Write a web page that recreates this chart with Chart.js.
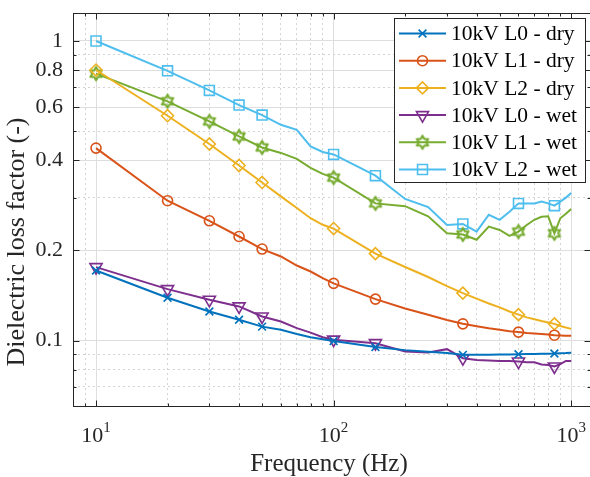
<!DOCTYPE html>
<html>
<head>
<meta charset="utf-8">
<script src="https://cdn.jsdelivr.net/npm/chart.js@4.4.1/dist/chart.umd.min.js"></script>
<style>
  html, body { margin: 0; padding: 0; background: #fff; overflow: hidden; }
  #wrap { width: 590px; height: 477px; position: relative; }
</style>
</head>
<body>
<div id="wrap"><canvas id="chart"></canvas></div>
<script>
// measured frequencies (Hz) and the ones that carry a marker
const freqs = [10, 20, 30, 40, 50, 60, 70, 80, 90, 100, 150, 200, 250, 300, 350, 400, 450, 500, 550, 600, 650, 700, 750, 800, 850, 900, 950, 1000];
const markerFreqs = [10, 20, 30, 40, 50, 100, 150, 350, 600, 850];

// dielectric loss factor per series
const l0Dry = [0.1713, 0.139, 0.125, 0.1173, 0.1113, 0.1086, 0.1052, 0.1026, 0.101, 0.0996, 0.0952, 0.0929, 0.0917, 0.0909, 0.0896, 0.0896, 0.0897, 0.0898, 0.0899, 0.09, 0.0901, 0.0902, 0.0903, 0.0904, 0.0905, 0.0907, 0.0908, 0.091];
const l1Dry = [0.439, 0.293, 0.251, 0.2225, 0.202, 0.1908, 0.178, 0.17, 0.1616, 0.1552, 0.1375, 0.128, 0.122, 0.1171, 0.1137, 0.1116, 0.1099, 0.1087, 0.1075, 0.1067, 0.106, 0.1056, 0.1051, 0.1047, 0.1042, 0.104, 0.1038, 0.1037];
const l2Dry = [0.8, 0.563, 0.453, 0.384, 0.337, 0.303, 0.277, 0.256, 0.2434, 0.2365, 0.195, 0.176, 0.163, 0.152, 0.144, 0.138, 0.133, 0.129, 0.125, 0.122, 0.1195, 0.1178, 0.1162, 0.1149, 0.1137, 0.1118, 0.1105, 0.1094];
const l0Wet = [0.1758, 0.1485, 0.1368, 0.13, 0.1203, 0.1157, 0.11, 0.1063, 0.1026, 0.1007, 0.098, 0.0919, 0.0912, 0.0936, 0.0873, 0.0861, 0.0858, 0.0855, 0.0854, 0.0851, 0.0847, 0.0846, 0.0832, 0.0828, 0.0819, 0.0834, 0.0855, 0.0855];
const l1Wet = [0.778, 0.629, 0.539, 0.48, 0.441, 0.423, 0.404, 0.377, 0.36, 0.35, 0.287, 0.281, 0.26, 0.228, 0.226, 0.217, 0.24, 0.234, 0.2235, 0.231, 0.243, 0.253, 0.259, 0.26, 0.228, 0.256, 0.265, 0.275];
const l2Wet = [1.0, 0.795, 0.684, 0.611, 0.566, 0.525, 0.505, 0.445, 0.426, 0.418, 0.355, 0.297, 0.279, 0.243, 0.245, 0.231, 0.263, 0.253, 0.269, 0.287, 0.287, 0.287, 0.291, 0.287, 0.282, 0.291, 0.3, 0.311];

const seriesNames = ["10kV L0 - dry", "10kV L1 - dry", "10kV L2 - dry", "10kV L0 - wet", "10kV L1 - wet", "10kV L2 - wet"];

// axis ticks
const xTickValues = [9, 10, 20, 30, 40, 50, 60, 70, 80, 90, 100, 200, 300, 400, 500, 600, 700, 800, 900, 1000];
const xMajorTicks = [10, 100, 1000];
const yTickValues = [0.07, 0.08, 0.09, 0.1, 0.2, 0.3, 0.4, 0.5, 0.6, 0.7, 0.8, 0.9, 1];
const yLabelledTicks = [0.1, 0.2, 0.4, 0.6, 0.8, 1];

const FONT = "'Liberation Serif', 'Times New Roman', serif";
const TEXT = "#262626";

// hexagram marker (MATLAB 'h')
function makeHexagram(color) {
  const c = document.createElement("canvas");
  c.width = 18; c.height = 18;
  const g = c.getContext("2d");
  const R = 6.5, r = R / Math.sqrt(3);
  g.beginPath();
  for (let k = 0; k < 12; k++) {
    const ang = -Math.PI / 2 + k * Math.PI / 6;
    const rad = k % 2 === 0 ? R : r;
    const px = 9 + rad * Math.cos(ang), py = 9 + rad * Math.sin(ang);
    k === 0 ? g.moveTo(px, py) : g.lineTo(px, py);
  }
  g.closePath();
  g.strokeStyle = color;
  g.lineWidth = 2.2;
  g.lineJoin = "round";
  g.stroke();
  return c;
}

const styles = [
  { color: "#0072BD", pointStyle: "crossRot", radius: 5.5, rotation: 0 },
  { color: "#D95319", pointStyle: "circle", radius: 5, rotation: 0 },
  { color: "#EDB120", pointStyle: "rectRot", radius: 6, rotation: 0 },
  { color: "#7E2F8E", pointStyle: "triangle", radius: 7, rotation: 180 },
  { color: "#77AC30", pointStyle: makeHexagram("#77AC30"), radius: 7, rotation: 0 },
  { color: "#4DBEEE", pointStyle: "rect", radius: 7, rotation: 0 }
];
const allSeries = [l0Dry, l1Dry, l2Dry, l0Wet, l1Wet, l2Wet];

const datasets = allSeries.map((vals, i) => ({
  label: seriesNames[i],
  data: freqs.map((f, j) => ({ x: f, y: vals[j] })),
  borderColor: styles[i].color,
  backgroundColor: "rgba(0,0,0,0)",
  borderWidth: 2,
  tension: 0,
  pointStyle: styles[i].pointStyle,
  pointRotation: styles[i].rotation,
  pointRadius: freqs.map(f => markerFreqs.includes(f) ? styles[i].radius : 0),
  pointHoverRadius: 0,
  pointBorderColor: styles[i].color,
  pointBackgroundColor: "rgba(0,0,0,0)",
  pointBorderWidth: 1.6
}));

function gridColor(ctx) {
  if (!ctx.tick) return "rgba(0,0,0,0)";
  return ctx.tick.major ? "#dedede" : "#d4d4d4";
}
function gridDash(ctx) {
  return ctx.tick && !ctx.tick.major ? [2, 3] : [];
}
function noPadding(scale) {
  scale.paddingTop = 0;
  scale.paddingBottom = 0;
  scale.paddingLeft = 0;
  scale.paddingRight = 0;
}

// box, inward ticks, x tick labels, axis titles and legend
const framePlugin = {
  id: "frame",
  afterDraw(chart) {
    const { ctx, chartArea: a, scales } = chart;
    // right edge of the axes box sits just past the canvas, as in the figure
    const L = Math.round(a.left) + 0.5, R = Math.round(a.right) + 0.5;
    const T = Math.round(a.top) + 0.5, B = Math.round(a.bottom) - 0.5;
    ctx.save();
    ctx.strokeStyle = TEXT;
    ctx.lineWidth = 1;
    ctx.strokeRect(L, T, R - L, B - T);

    ctx.beginPath();
    scales.x.ticks.forEach(t => {
      const px = Math.round(scales.x.getPixelForValue(t.value)) + 0.5;
      const len = t.major ? 6 : 3;
      ctx.moveTo(px, B); ctx.lineTo(px, B - len);
      ctx.moveTo(px, T); ctx.lineTo(px, T + len);
    });
    scales.y.ticks.forEach(t => {
      const py = Math.round(scales.y.getPixelForValue(t.value)) + 0.5;
      const len = t.major ? 6 : 3;
      ctx.moveTo(L, py); ctx.lineTo(L + len, py);
      ctx.moveTo(R, py); ctx.lineTo(R - len, py);
    });
    ctx.stroke();

    // x tick labels as 10^n
    ctx.fillStyle = TEXT;
    ctx.textBaseline = "alphabetic";
    ctx.textAlign = "left";
    xMajorTicks.forEach(v => {
      const px = scales.x.getPixelForValue(v);
      const exp = String(Math.round(Math.log10(v)));
      ctx.font = "22px " + FONT;
      const wb = ctx.measureText("10").width;
      ctx.font = "15px " + FONT;
      const we = ctx.measureText(exp).width;
      const x0 = px - (wb + we) / 2;
      ctx.font = "22px " + FONT;
      ctx.fillText("10", x0, 442);
      ctx.font = "15px " + FONT;
      ctx.fillText(exp, x0 + wb, 432);
    });

    // axis titles
    ctx.font = "25px " + FONT;
    ctx.textAlign = "center";
    ctx.fillText("Frequency (Hz)", 329, 471);
    ctx.save();
    ctx.font = "26px " + FONT;
    ctx.translate(17, 242);
    ctx.rotate(-Math.PI / 2);
    ctx.textBaseline = "middle";
    ctx.fillText("Dielectric loss factor (-)", 0, 0);
    ctx.restore();

    // legend
    const lx = 394.5, ly = 18.5, lw = 191, lh = 164;
    ctx.fillStyle = "#fff";
    ctx.fillRect(lx, ly, lw, lh);
    ctx.strokeStyle = "#262626";
    ctx.lineWidth = 1;
    ctx.strokeRect(lx, ly, lw, lh);
    ctx.font = "21.5px " + FONT;
    ctx.textAlign = "left";
    ctx.textBaseline = "middle";
    seriesNames.forEach((name, i) => {
      const cy = 33.5 + i * 27.2;
      const s = styles[i];
      ctx.strokeStyle = s.color;
      ctx.lineWidth = 2;
      ctx.beginPath();
      ctx.moveTo(399, cy); ctx.lineTo(446, cy);
      ctx.stroke();
      ctx.fillStyle = "rgba(0,0,0,0)";
      ctx.lineWidth = 1.6;
      Chart.helpers.drawPoint(ctx, { pointStyle: s.pointStyle, radius: s.radius, rotation: s.rotation, borderWidth: 1.6 }, 422.5, cy);
      ctx.fillStyle = "#000";
      ctx.fillText(name, 451, cy + 1);
    });
    ctx.restore();
  }
};

new Chart(document.getElementById("chart"), {
  type: "line",
  data: { datasets },
  options: {
    responsive: true,
    maintainAspectRatio: false,
    animation: false,
    events: [],
    layout: { autoPadding: false, padding: { top: 13, right: 0, left: 0, bottom: 0 } },
    plugins: { legend: { display: false }, tooltip: { enabled: false } },
    scales: {
      x: {
        type: "logarithmic",
        min: 8,
        max: 1200,
        afterBuildTicks: scale => {
          scale.ticks = xTickValues.map(v => ({ value: v, major: xMajorTicks.includes(v) }));
        },
        afterFit: scale => { scale.height = 70; noPadding(scale); },
        ticks: { display: false, autoSkip: false },
        grid: { color: gridColor, drawTicks: false, lineWidth: 1 },
        border: { display: false, dash: gridDash }
      },
      y: {
        type: "logarithmic",
        min: 0.06,
        max: 1.24,
        afterBuildTicks: scale => {
          scale.ticks = yTickValues.map(v => ({ value: v, major: yLabelledTicks.includes(v) }));
        },
        afterFit: scale => { scale.width = 73; noPadding(scale); },
        ticks: {
          autoSkip: false,
          padding: 10,
          color: TEXT,
          font: { family: FONT, size: 22 },
          callback: v => yLabelledTicks.includes(v) ? String(v) : ""
        },
        grid: { color: gridColor, drawTicks: false, lineWidth: 1 },
        border: { display: false, dash: gridDash }
      }
    }
  },
  plugins: [framePlugin]
});
</script>
</body>
</html>
